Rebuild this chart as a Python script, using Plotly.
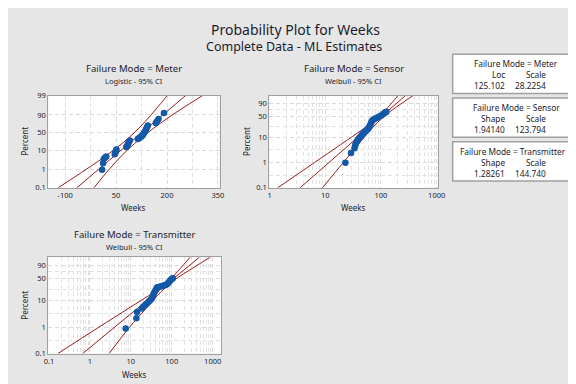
import numpy as np
import plotly.graph_objects as go

# ---------------- data ----------------
meter_weeks = [8.7, 11.6, 13.6, 18, 21, 46, 47.5, 48.5, 50, 51, 80, 82, 84, 86, 88, 90.5,
               114, 117, 120, 124, 127, 129, 131, 133.5, 136.5, 138.5, 141, 143.5, 167, 171, 175, 191]
meter_pct = [0.96, 2.1, 3.5, 4.2, 4.8, 6.2, 7.3, 8.4, 9.5, 10.7, 14, 15.5, 18, 21, 24, 27,
             31, 33, 35, 38, 40.5, 44, 47, 51, 56, 61, 66, 71, 77, 81, 84.5, 92]

sensor_weeks = [23, 29, 33.5, 34.5, 35.5, 37, 38.5, 40, 42, 44, 46, 48, 50, 53, 56, 59, 61, 63,
                65, 67, 69, 72, 77, 83, 89, 96, 103, 110, 116, 121, 125]
sensor_pct = [1.0, 2.4, 3.7, 4.8, 5.8, 6.8, 7.8, 8.8, 9.9, 11, 12.3, 13.6, 15, 16.5, 18, 20, 22.5,
              25.5, 29, 33, 37, 40, 43, 45.5, 48, 51, 54, 58, 61, 64, 66]

trans_weeks = [7.5, 13.7, 14.2, 18.5, 20, 22, 24, 26, 28, 30, 32, 33.5, 35, 36.5, 38, 40, 42, 44,
               48, 53, 58, 64, 70, 76, 81, 86, 90, 96, 101, 106]
trans_pct = [0.9, 2.2, 3.7, 5.0, 5.8, 6.6, 7.4, 8.3, 9.3, 10.3, 11.5, 13, 15, 17, 19.5, 22, 25, 28,
             29, 30, 31, 32, 33, 35, 37.5, 41, 44, 47, 50, 52]

# fitted lines and 95% CI bands (percent -> weeks)
fit_pct = [0.1, 99]
meter_fit_weeks = [-66, 254]
sensor_fit_weeks = [3.53, 272]
trans_fit_weeks = [0.663, 476]

ci_pct_logistic = [0.1, 1, 5, 20, 50, 80, 95, 99]
meter_lower = [-121, -38, 19, 67, 104, 136, 168, 200]
meter_upper = [-15.5, 29.5, 65, 104, 143.5, 188, 242, 304]

ci_pct_weibull = [0.1, 1, 5, 20, 50, 80, 99]
sensor_lower = [1.40, 6.38, 18.6, 48.2, 93.3, 133.7, 201]
sensor_upper = [8.9, 21.0, 38.7, 67.8, 112.6, 187.2, 371]
trans_lower = [0.165, 1.65, 8.6, 37.5, 94, 155, 283]
trans_upper = [2.95, 9.3, 23.5, 54.6, 127.6, 295, 870]

# axis ticks
logistic_ticks = [0.1, 1, 10, 50, 90, 99]
weibull_ticks = [0.1, 1, 10, 50, 90]
meter_xticks = [-100, 50, 200, 350]
log_xticks_sensor = [1, 10, 100, 1000]
log_xticks_trans = [0.1, 1, 10, 100, 1000]

# parameter tables
tables = [
    ("Failure Mode = Meter", "Loc", "Scale", "125.102", "28.2254"),
    ("Failure Mode = Sensor", "Shape", "Scale", "1.94140", "123.794"),
    ("Failure Mode = Transmitter", "Shape", "Scale", "1.28261", "144.740"),
]

# ---------------- probability scale transforms ----------------
def logit(p):
    p = np.asarray(p, dtype=float) / 100.0
    return np.log(p / (1 - p))

def weib(p):
    p = np.asarray(p, dtype=float) / 100.0
    return np.log(-np.log(1 - p))

W, H = 576, 384
def px(x):
    return x / W
def py(y):
    return 1 - y / H

RED = "#9b1b1b"
BLUE = "#1259a8"
TXT = "#1c1c2c"
GRID = "#dadada"
DASH = "4px,3px"
FONT = "Noto Sans"

fig = go.Figure()

def add_panel(xa, ya, weeks, pct, fitw, ci_pct, lo, up, tf):
    sfx_x = "x" if xa == 1 else f"x{xa}"
    sfx_y = "y" if ya == 1 else f"y{ya}"
    fig.add_trace(go.Scatter(x=lo, y=tf(ci_pct), mode="lines", line=dict(color=RED, width=1, shape="spline"),
                             xaxis=sfx_x, yaxis=sfx_y, hoverinfo="skip"))
    fig.add_trace(go.Scatter(x=up, y=tf(ci_pct), mode="lines", line=dict(color=RED, width=1, shape="spline"),
                             xaxis=sfx_x, yaxis=sfx_y, hoverinfo="skip"))
    fig.add_trace(go.Scatter(x=fitw, y=tf(fit_pct), mode="lines", line=dict(color=RED, width=1),
                             xaxis=sfx_x, yaxis=sfx_y, hoverinfo="skip"))
    fig.add_trace(go.Scatter(x=weeks, y=tf(pct), mode="markers",
                             marker=dict(color=BLUE, size=6.5, line=dict(width=0)),
                             xaxis=sfx_x, yaxis=sfx_y))

add_panel(1, 1, meter_weeks, meter_pct, meter_fit_weeks, ci_pct_logistic, meter_lower, meter_upper, logit)
add_panel(2, 2, sensor_weeks, sensor_pct, sensor_fit_weeks, ci_pct_weibull, sensor_lower, sensor_upper, weib)
add_panel(3, 3, trans_weeks, trans_pct, trans_fit_weeks, ci_pct_weibull, trans_lower, trans_upper, weib)

def fmt(v):
    return ("%g" % v)

axis_common = dict(showline=True, mirror=True, linecolor="#a0a0a0", linewidth=1,
                   showgrid=True, gridcolor=GRID, griddash=DASH, gridwidth=1,
                   zeroline=False, ticks="", tickfont=dict(size=7.5, color=TXT, family=FONT),
                   fixedrange=True)

def minor_log(lo, hi):
    vals = []
    for e in range(lo, hi):
        for k in range(2, 10):
            vals.append(k * 10.0 ** e)
    return vals

def midpoints(vals):
    v = list(vals)
    return [(a + b) / 2 for a, b in zip(v[:-1], v[1:])]

minor_style = dict(showgrid=True, gridcolor="#e2e2e2", griddash=DASH, ticks="")
weib_minor = midpoints(weib(weibull_ticks))

fig.update_layout(
    width=W, height=H, margin=dict(l=0, r=0, t=0, b=0),
    paper_bgcolor="#e6e6e6", plot_bgcolor="white", showlegend=False,
    font=dict(family=FONT, color=TXT),
    xaxis=dict(domain=[px(36), px(211)], anchor="y", range=[-150, 355],
               tickvals=meter_xticks, ticktext=[fmt(v) for v in meter_xticks],
               minor=dict(tickvals=[-25, 125, 275], **minor_style),
               **axis_common),
    yaxis=dict(domain=[py(179.5), py(85)], anchor="x",
               range=[float(logit(0.1)), float(logit(99))],
               tickvals=list(logit(logistic_ticks)), ticktext=[fmt(v) for v in logistic_ticks],
               **axis_common),
    xaxis2=dict(domain=[px(261.7), px(434)], anchor="y2", type="log", range=[-0.005, 3.023],
                tickvals=log_xticks_sensor, ticktext=[fmt(v) for v in log_xticks_sensor],
                minor=dict(tickvals=minor_log(0, 3), **minor_style),
                **axis_common),
    yaxis2=dict(domain=[py(179.5), py(85)], anchor="x2",
                range=[float(weib(0.1)), float(weib(99))],
                tickvals=list(weib(weibull_ticks)), ticktext=[fmt(v) for v in weibull_ticks],
                minor=dict(tickvals=weib_minor, **minor_style),
                **axis_common),
    xaxis3=dict(domain=[px(36), px(212.3)], anchor="y3", type="log", range=[-1.017, 3.2],
                tickvals=log_xticks_trans, ticktext=[fmt(v) for v in log_xticks_trans],
                minor=dict(tickvals=minor_log(-1, 4), **minor_style),
                **axis_common),
    yaxis3=dict(domain=[py(349.7), py(250.7)], anchor="x3",
                range=[float(weib(0.1)), float(weib(99))],
                tickvals=list(weib(weibull_ticks)), ticktext=[fmt(v) for v in weibull_ticks],
                minor=dict(tickvals=weib_minor, **minor_style),
                **axis_common),
)

ann = []
def text(x, y, s, size, anchor="center", angle=0):
    ann.append(dict(x=px(x), y=py(y), xref="paper", yref="paper", text=s, showarrow=False,
                    xanchor=anchor, yanchor="middle", textangle=angle,
                    font=dict(size=size, color=TXT, family=FONT)))

text(288, 17.3, "Probability Plot for Weeks", 14)
text(287, 34.3, "Complete Data - ML Estimates", 12.5)

text(123.5, 57.3, "Failure Mode = Meter", 9.6)
text(123.5, 70, "Logistic - 95% CI", 7.5)
text(347.9, 57.3, "Failure Mode = Sensor", 9.6)
text(347.9, 70, "Weibull - 95% CI", 7.5)
text(124.2, 227.3, "Failure Mode = Transmitter", 9.6)
text(124.2, 240, "Weibull - 95% CI", 7.5)

text(12.3, 132, "Percent", 8, angle=-90)
text(238.3, 132, "Percent", 8, angle=-90)
text(11.7, 300, "Percent", 8, angle=-90)
text(123.3, 200, "Weeks", 8)
text(347.7, 200, "Weeks", 8)
text(124, 370.7, "Weeks", 8)

shapes = []
box_tops = [42.3, 87.3, 132.3]
title_cx = [514, 514, 510.7]
LS = 8.3
for (title, h1, h2, v1, v2), top, cx in zip(tables, box_tops, title_cx):
    shapes.append(dict(type="rect", xref="paper", yref="paper", x0=px(449), x1=px(569.3),
                       y0=py(top + 40.3), y1=py(top), fillcolor="white",
                       line=dict(color="#a0a0a0", width=1.5)))
    text(cx, top + 9.4, title, LS)
    text(505, top + 20.8, h1, LS, anchor="right")
    text(546, top + 20.8, h2, LS, anchor="right")
    text(505, top + 32, v1, LS, anchor="right")
    text(546, top + 32, v2, LS, anchor="right")

# outer border (right / bottom)
shapes.append(dict(type="line", xref="paper", yref="paper", x0=px(575), x1=px(575), y0=0, y1=1,
                   line=dict(color="#c4c4c4", width=2)))
shapes.append(dict(type="line", xref="paper", yref="paper", x0=0, x1=1, y0=py(383), y1=py(383),
                   line=dict(color="#c4c4c4", width=2)))

fig.update_layout(annotations=ann, shapes=shapes)
fig.write_html("out.html")
